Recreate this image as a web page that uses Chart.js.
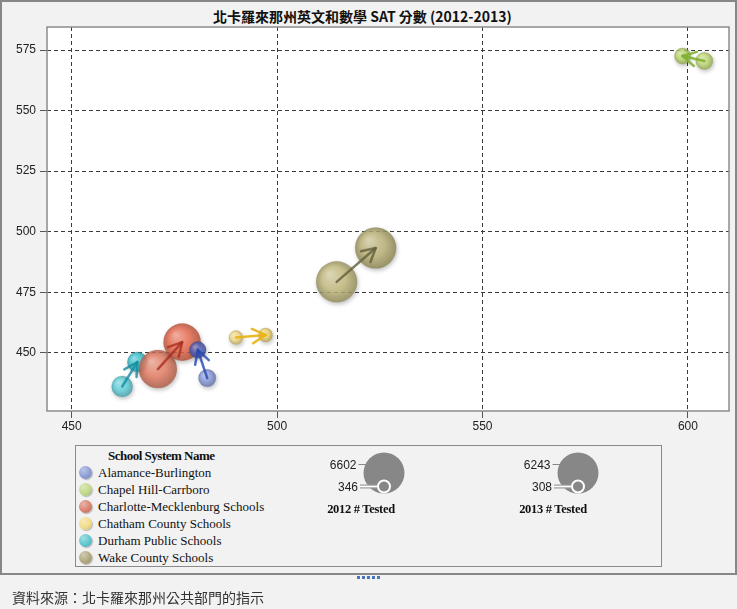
<!DOCTYPE html>
<html><head><meta charset="utf-8">
<script src="https://cdn.jsdelivr.net/npm/chart.js@4.4.0/dist/chart.umd.min.js"></script>
<style>
html,body{margin:0;padding:0;background:#f2f2f2;width:737px;height:609px;overflow:hidden;position:relative}
#frame{position:absolute;left:0;top:0;width:737px;height:575px;box-sizing:border-box;border:2px solid #878787}
#title{position:absolute;left:0;top:6px;width:725px;text-align:center;font:bold 14px "Noto Sans CJK TC",sans-serif;color:#111;line-height:20px}
#c{position:absolute;left:0;top:0}
#legend{position:absolute;left:75px;top:445px;width:587px;height:122px;box-sizing:border-box;border:1px solid #8a8a8a;font-family:"Liberation Serif",serif;color:#111}
#legend .hdr{position:absolute;left:32px;top:1px;font-weight:bold;font-size:13px;letter-spacing:-0.5px;line-height:17px}
#legend .row{position:absolute;left:3px;height:17px;line-height:17px;font-size:13px;white-space:nowrap}
#legend .sw{display:inline-block;width:13px;height:13px;border-radius:50%;vertical-align:-2px;margin-right:6px;box-shadow:1px 1px 1px rgba(0,0,0,0.25)}
#sizes{position:absolute;left:0;top:0}
#footer{position:absolute;left:12px;top:587px;font:14px "Noto Sans CJK TC",sans-serif;color:#333;letter-spacing:0px;line-height:20px}
#dots{position:absolute;left:357px;top:576px}
#dots span{position:absolute;top:0;width:3px;height:3px;background:#4a74b8}
</style></head>
<body>
<div id="frame"></div>
<div id="title">北卡羅來那州英文和數學 SAT 分數 (2012-2013)</div>
<canvas id="c" width="737" height="440" style="width:737px;height:440px"></canvas>
<div id="legend"><div class="hdr">School System Name</div></div>
<svg id="sizes" width="737" height="609"></svg>
<div id="dots"></div>
<div id="footer">資料來源：北卡羅來那州公共部門的指示</div>
<script>
// ---- data ----
const schools = ["Alamance-Burlington","Chapel Hill-Carrboro","Charlotte-Mecklenburg Schools","Chatham County Schools","Durham Public Schools","Wake County Schools"];
const x2012 = [483, 604, 471, 490, 462.3, 514.5];
const y2012 = [439.6, 570.5, 443.3, 456.3, 436.1, 479.3];
const x2013 = [480.7, 598.7, 476.9, 497.2, 466, 524];
const y2013 = [451.2, 572.5, 454.4, 457.4, 446.2, 493.3];
const tested2012 = [1150, 1100, 5900, 346, 2000, 6602];
const tested2013 = [900, 800, 5400, 308, 1650, 6243];
const xTicks = [450, 500, 550, 600];
const yTicks = [450, 475, 500, 525, 550, 575];
const sizeTitles = ["2012 # Tested", "2013 # Tested"];

// ---- styles ----
const col2012 = ["#8a9de0","#c6de78","#ea7f64","#f8df84","#62d6e0","#c8be80"];
const col2013 = ["#5563c0","#bedb6c","#ee6d50","#f4d76e","#3ec8d4","#c0b679"];
const arrowCol = ["rgba(35,70,175,0.8)","rgba(125,175,45,0.85)","rgba(165,40,30,0.75)","rgba(232,178,20,0.9)","rgba(20,140,160,0.8)","rgba(100,95,60,0.8)"];
const swatch = ["#8e9ed6","#c2d98a","#d9826f","#f1dc8c","#5fc6cf","#b0a97e"];

const RMIN = 7, RMAX = 20.5;
function radiusFor(n, arr){ const mn=Math.min(...arr), mx=Math.max(...arr); return RMIN + (n-mn)/(mx-mn)*(RMAX-RMIN); }

function shade(hex, f){
  const n=parseInt(hex.slice(1),16); let r=n>>16,g=(n>>8)&255,b=n&255;
  if(f>0){ r=r+(255-r)*f; g=g+(255-g)*f; b=b+(255-b)*f; } else { r*=1+f; g*=1+f; b*=1+f; }
  return [Math.round(r),Math.round(g),Math.round(b)];
}
function rgba(a,al){ return `rgba(${a[0]},${a[1]},${a[2]},${al})`; }

const datasets = schools.map((s,i)=>({
  label: s,
  data: [
    {x:x2012[i], y:y2012[i], n:tested2012[i], yr:2012},
    {x:x2013[i], y:y2013[i], n:tested2013[i], yr:2013}
  ],
  radius: c => c.raw ? radiusFor(c.raw.n, c.raw.yr===2012?tested2012:tested2013) : 5,
  backgroundColor: c => {
    const base = c.raw && c.raw.yr===2013 ? col2013[i] : col2012[i];
    const chart = c.chart, xs = chart.scales && chart.scales.x, ys = chart.scales && chart.scales.y;
    if(!c.raw || !xs || !ys) return rgba(shade(base,0),0.82);
    const px = xs.getPixelForValue(c.raw.x), py = ys.getPixelForValue(c.raw.y);
    if(!isFinite(px) || !isFinite(py)) return rgba(shade(base,0),0.82);
    const r = radiusFor(c.raw.n, c.raw.yr===2012?tested2012:tested2013);
    const g = chart.ctx.createRadialGradient(px-r*0.35, py-r*0.4, r*0.05, px, py, r);
    g.addColorStop(0, rgba(shade(base,0.4),0.85));
    g.addColorStop(0.55, rgba(shade(base,0),0.82));
    g.addColorStop(1, rgba(shade(base,-0.25),0.85));
    return g;
  },
  borderColor: c => rgba(shade(c.raw && c.raw.yr===2013 ? col2013[i] : col2012[i], -0.25),0.35),
  borderWidth: 0.6
}));

const areaPlugin = {
  id:'area',
  beforeDraw(chart){ const {ctx, chartArea:a}=chart; ctx.save(); ctx.fillStyle='#fff'; ctx.fillRect(a.left,a.top,a.right-a.left,a.bottom-a.top); ctx.restore(); },
  beforeDatasetDraw(chart){ const ctx=chart.ctx; ctx.save(); ctx.shadowColor='rgba(0,0,0,0.28)'; ctx.shadowBlur=4; ctx.shadowOffsetX=1; ctx.shadowOffsetY=2; },
  afterDatasetDraw(chart){ chart.ctx.restore(); },
  afterDatasetsDraw(chart){
    const ctx=chart.ctx;
    chart.data.datasets.forEach((ds,i)=>{
      const m=chart.getDatasetMeta(i); const p0=m.data[0], p1=m.data[1];
      const ang=Math.atan2(p1.y-p0.y, p1.x-p0.x), L=15, A=0.5;
      ctx.save(); ctx.strokeStyle=arrowCol[i]; ctx.lineWidth=2.5; ctx.lineCap='round'; ctx.lineJoin='round';
      ctx.beginPath(); ctx.moveTo(p0.x,p0.y); ctx.lineTo(p1.x,p1.y); ctx.stroke();
      ctx.beginPath();
      ctx.moveTo(p1.x-L*Math.cos(ang-A), p1.y-L*Math.sin(ang-A));
      ctx.lineTo(p1.x,p1.y);
      ctx.lineTo(p1.x-L*Math.cos(ang+A), p1.y-L*Math.sin(ang+A));
      ctx.stroke(); ctx.restore();
    });
  },
  afterDraw(chart){ const {ctx, chartArea:a}=chart; ctx.save(); ctx.strokeStyle='#8c8c8c'; ctx.lineWidth=1.5; ctx.strokeRect(a.left,a.top,a.right-a.left,a.bottom-a.top); ctx.restore(); }
};

const tickFont = {family:'"Liberation Sans Narrow", "Liberation Sans", sans-serif', size:12};
new Chart(document.getElementById('c'), {
  type:'bubble',
  data:{datasets},
  options:{
    responsive:false, animation:false, events:[],
    layout:{autoPadding:false, padding:{top:27,right:8,left:0,bottom:0}},
    plugins:{legend:{display:false}, tooltip:{enabled:false}, title:{display:false}},
    scales:{
      x:{type:'linear', min:444, max:610,
        afterBuildTicks:s=>{ s.ticks = xTicks.map(v=>({value:v})); },
        afterFit:s=>{ s.height = 29; s.paddingLeft = 0; s.paddingRight = 0; },
        ticks:{font:tickFont, color:'#222', padding:1, autoSkip:false, maxRotation:0},
        grid:{color:'#3a3a3a', lineWidth:1, tickLength:7, tickColor:'#555', tickBorderDash:[1,0]},
        border:{display:false, dash:[4,3]}
      },
      y:{type:'linear', min:426, max:584.5,
        afterBuildTicks:s=>{ s.ticks = yTicks.map(v=>({value:v})); },
        afterFit:s=>{ s.width = 47; s.paddingTop = 0; s.paddingBottom = 0; },
        ticks:{font:tickFont, color:'#222', padding:4, autoSkip:false},
        grid:{color:'#3a3a3a', lineWidth:1, tickLength:7, tickColor:'#555', tickBorderDash:[1,0]},
        border:{display:false, dash:[4,3]}
      }
    },
    clip:false
  },
  plugins:[areaPlugin]
});

// ---- legend ----
const lg=document.getElementById('legend');
schools.forEach((s,i)=>{
  const d=document.createElement('div'); d.className='row'; d.style.top=(17.5+17*i)+'px';
  const c=shade(swatch[i],0.4), e=shade(swatch[i],-0.2);
  d.innerHTML=`<span class="sw" style="background:radial-gradient(circle at 35% 30%, ${rgba(c,1)}, ${swatch[i]} 55%, ${rgba(e,1)})"></span>${s}`;
  lg.appendChild(d);
});
// size legends
const svg=document.getElementById('sizes'); const NS='http://www.w3.org/2000/svg';
function el(t,a,txt){ const e=document.createElementNS(NS,t); for(const k in a) e.setAttribute(k,a[k]); if(txt!=null) e.textContent=txt; svg.appendChild(e); return e; }
[[tested2012,384,361],[tested2013,578,553]].forEach(([arr,cx,tx],k)=>{
  const mx=Math.max(...arr), mn=Math.min(...arr);
  const R=radiusFor(mx,arr), r=radiusFor(mn,arr), bottom=493.5;
  el('circle',{cx:cx,cy:bottom-R,r:R,fill:'#878787'});
  el('line',{x1:cx-r-17,y1:bottom-r,x2:cx-r,y2:bottom-r,stroke:'#9a9a9a','stroke-width':4});
  el('line',{x1:cx-r-17,y1:bottom-r,x2:cx-r,y2:bottom-r,stroke:'#fff','stroke-width':1.6});
  el('circle',{cx:cx,cy:bottom-r,r:r-1,fill:'#878787',stroke:'#fff','stroke-width':2});
  el('line',{x1:cx-R-5,y1:bottom-2*R+12,x2:cx-R+4,y2:bottom-2*R+12,stroke:'#888','stroke-width':1});
  el('text',{x:cx-R-7,y:bottom-2*R+16,'text-anchor':'end','font-family':'Liberation Sans Narrow, Liberation Sans, sans-serif','font-size':12,fill:'#222'},String(mx));
  el('text',{x:cx-r-19,y:bottom-r+4,'text-anchor':'end','font-family':'Liberation Sans Narrow, Liberation Sans, sans-serif','font-size':12,fill:'#222'},String(mn));
  el('text',{x:tx,y:513,'text-anchor':'middle','font-family':'Liberation Serif, serif','font-size':12.5,'font-weight':'bold','letter-spacing':'-0.3',fill:'#111'},sizeTitles[k]);
});
const dots=document.getElementById('dots');
for(let i=0;i<5;i++){ const s=document.createElement('span'); s.style.left=(i*5)+'px'; dots.appendChild(s); }
</script>
</body></html>
